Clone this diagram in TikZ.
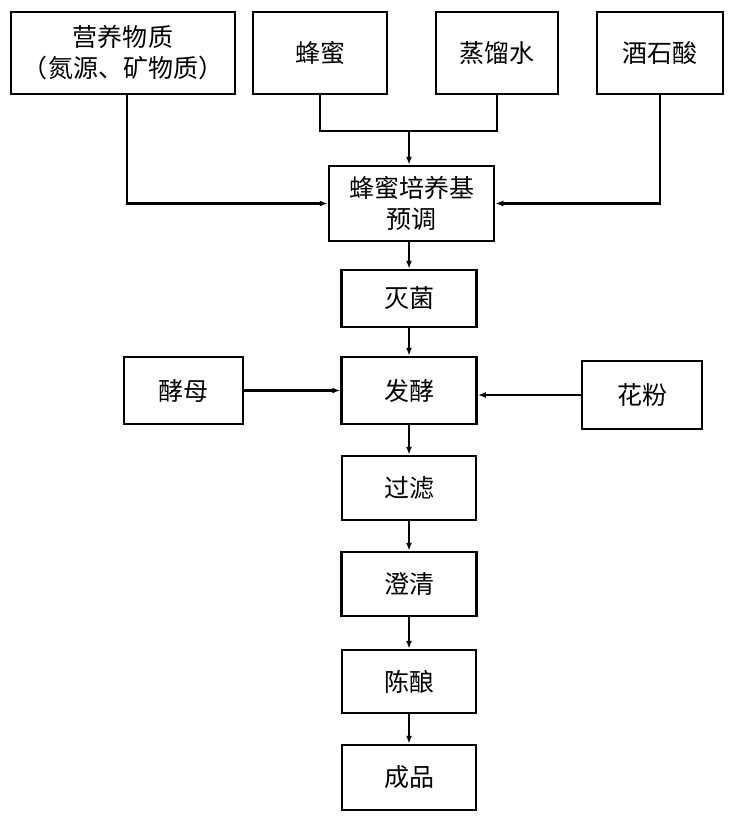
\documentclass[tikz,border=0pt]{standalone}
\usepackage{fontspec}
\newfontfamily\cjk{Noto Sans CJK SC}
\usetikzlibrary{arrows.meta}
\begin{document}
\begin{tikzpicture}[x=1pt,y=1pt,
  box/.style={draw,line width=2.5pt,inner sep=0pt,align=center,font=\cjk\fontsize{25}{31}\selectfont},
  conn/.style={line width=2.2pt},
  arr/.style={conn,-{Latex[length=8pt,width=6pt]}}]
\useasboundingbox (0,0) rectangle (728,-832);
\fill[white] (0,0) rectangle (728,-832);
\node[box,minimum width=224pt,minimum height=82pt] (n1) at (123,-53) {营养物质\\（氮源、矿物质）};
\node[box,minimum width=134pt,minimum height=82pt] (n2) at (320,-53) {蜂蜜};
\node[box,minimum width=122pt,minimum height=82pt] (n3) at (497,-53) {蒸馏水};
\node[box,minimum width=126pt,minimum height=82pt] (n4) at (660,-53) {酒石酸};
\node[box,minimum width=165pt,minimum height=75pt] (pre) at (411.5,-203.5) {蜂蜜培养基\\预调};
\node[box,minimum width=135pt,minimum height=57pt] (mj) at (409,-298.5) {灭菌};
\node[box,minimum width=119pt,minimum height=67pt] (yeast) at (183.5,-390.5) {酵母};
\node[box,minimum width=135pt,minimum height=67pt] (fj) at (409,-390.5) {发酵};
\node[box,minimum width=120pt,minimum height=68pt] (hf) at (642,-395) {花粉};
\node[box,minimum width=134pt,minimum height=64pt] (gl) at (409,-488) {过滤};
\node[box,minimum width=135pt,minimum height=64pt] (cq) at (409,-584) {澄清};
\node[box,minimum width=134pt,minimum height=63pt] (cn) at (409,-681.5) {陈酿};
\node[box,minimum width=134pt,minimum height=65pt] (cp) at (409,-777.5) {成品};
\coordinate (j) at (409,-131);
\coordinate (a1) at (127,-53);
\draw[conn] (n2.south) |- (j) -| (n3.south);
\draw[arr] (j) -- (j |- pre.north);
\draw[arr] (a1 |- n1.south) |- (pre.west);
\draw[arr] (n4.south) |- (pre.east);
\draw[arr] (pre.south -| mj.north) -- (mj.north);
\draw[arr] (mj) -- (fj);
\draw[arr] (yeast) -- (fj);
\draw[arr] (hf.west) -- (hf.west -| fj.east);
\draw[arr] (fj) -- (gl);
\draw[arr] (gl) -- (cq);
\draw[arr] (cq) -- (cn);
\draw[arr] (cn) -- (cp);
\end{tikzpicture}
\end{document}
